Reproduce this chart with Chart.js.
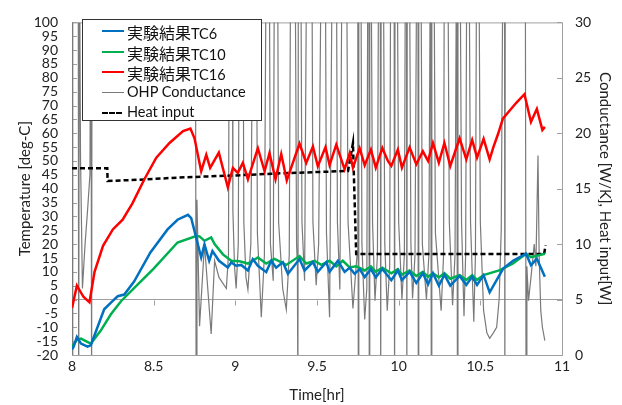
<!DOCTYPE html>
<html>
<head>
<meta charset="utf-8">
<script src="https://cdn.jsdelivr.net/npm/chart.js@4.4.0/dist/chart.umd.min.js"></script>
<style>
body { margin: 0; background: #fff; }
#wrap { position: relative; width: 622px; height: 405px; }
#legend { position: absolute; left: 82px; top: 19px; width: 178px; height: 100px; border: 1px solid #333; background: #fff; font: 14.5px Lato, 'Noto Sans CJK JP', sans-serif; color: #111; }
.row { position: absolute; left: 0; height: 20px; line-height: 20px; white-space: nowrap; }
.sw { position: absolute; left: 19px; top: 10px; width: 22px; }
.tx { position: absolute; left: 44px; top: 0; }
.cj { font: 16px 'Noto Sans CJK JP', sans-serif; }
</style>
</head>
<body>
<div id="wrap">
	<canvas id="chart" width="622" height="405"></canvas>
	<div id="legend"></div>
</div>
<script>
// 実験結果 (temperature, left axis)
const tc16Time = [8.00, 8.03, 8.07, 8.107, 8.138, 8.19, 8.25, 8.31, 8.37, 8.444, 8.516, 8.597, 8.68, 8.725, 8.75, 8.791, 8.822, 8.846, 8.899, 8.954, 8.985, 9.015, 9.046, 9.077, 9.138, 9.179, 9.209, 9.246, 9.281, 9.315, 9.393, 9.434, 9.475, 9.505, 9.552, 9.577, 9.618, 9.669, 9.70, 9.72, 9.761, 9.792, 9.83, 9.86, 9.90, 9.934, 9.955, 9.995, 10.02, 10.067, 10.108, 10.148, 10.18, 10.21, 10.246, 10.28, 10.316, 10.373, 10.414, 10.45, 10.48, 10.52, 10.557, 10.58, 10.61, 10.638, 10.68, 10.72, 10.77, 10.81, 10.846, 10.88, 10.895];
const tc16Temp = [-3, 5, 1, -1, 10, 19.4, 25.3, 28.8, 34.7, 43.5, 51.2, 56.5, 60.8, 61.7, 58.2, 46.3, 52.2, 47.5, 53, 40.5, 47.5, 45.7, 49.3, 43.4, 54.6, 46.3, 52.8, 43.4, 52.5, 43, 56.3, 49.3, 55.2, 48.1, 55, 48.5, 55.9, 47, 52.8, 47.6, 54.6, 48.5, 54.1, 47.6, 54.7, 50, 48.2, 54.1, 47.6, 54.9, 48.8, 53.5, 50, 56.5, 49.4, 56.5, 48.2, 58.2, 50.6, 57.6, 51.2, 58, 50.6, 55, 60, 65.3, 68.2, 71, 74.1, 64.1, 68.8, 61.2, 62.3];

const tc6Time = [8.00, 8.01, 8.03, 8.055, 8.095, 8.115, 8.156, 8.197, 8.24, 8.28, 8.32, 8.38, 8.48, 8.585, 8.646, 8.71, 8.73, 8.791, 8.811, 8.84, 8.86, 8.90, 8.954, 8.975, 9.005, 9.036, 9.077, 9.107, 9.138, 9.189, 9.22, 9.25, 9.291, 9.322, 9.393, 9.424, 9.475, 9.505, 9.557, 9.577, 9.628, 9.669, 9.70, 9.73, 9.761, 9.792, 9.83, 9.86, 9.90, 9.955, 9.995, 10.02, 10.067, 10.108, 10.148, 10.18, 10.21, 10.246, 10.28, 10.316, 10.373, 10.414, 10.45, 10.48, 10.52, 10.557, 10.64, 10.70, 10.78, 10.81, 10.846, 10.895];
const tc6Temp = [-18, -17, -13.5, -15.9, -17, -16.5, -10, -3.5, -1, 1.2, 1.8, 6.5, 17, 25.3, 28.8, 30.6, 29.4, 15.2, 19.9, 14, 17.5, 14, 11.6, 13.4, 12.2, 12.5, 10.5, 14.6, 12.2, 9.9, 14, 11.5, 13.5, 9.3, 14.6, 10.5, 13.5, 10, 13.5, 10, 14, 10, 11.5, 9.3, 11, 8.1, 11, 8, 11, 7, 10.5, 7, 10, 6, 9.5, 5.5, 9.5, 5, 9, 5, 8.5, 5.3, 8.2, 5.3, 8.8, 2.6, 11.2, 14, 16.5, 12.4, 14.7, 8.2];

const tc10Time = [8.00, 8.03, 8.055, 8.115, 8.176, 8.238, 8.30, 8.38, 8.50, 8.646, 8.76, 8.781, 8.811, 8.852, 8.873, 8.924, 8.975, 9.026, 9.077, 9.138, 9.189, 9.24, 9.312, 9.393, 9.434, 9.485, 9.526, 9.577, 9.618, 9.658, 9.70, 9.74, 9.792, 9.83, 9.86, 9.90, 9.955, 9.995, 10.02, 10.067, 10.108, 10.148, 10.18, 10.21, 10.246, 10.28, 10.316, 10.373, 10.414, 10.45, 10.48, 10.52, 10.62, 10.70, 10.78, 10.81, 10.895];
const tc10Temp = [-17, -14.5, -14.1, -15.9, -11.2, -5.3, -0.6, 4.1, 11.2, 20.6, 22.9, 22.8, 21.2, 22.4, 20, 16.3, 14, 13.8, 13, 15.2, 13, 14.7, 12.5, 15.7, 13, 14, 12.5, 14, 12, 14, 11.6, 12, 10.5, 12, 10, 11.5, 9.5, 11, 9, 10.5, 8.5, 10, 8.2, 9.5, 8, 9.5, 7.5, 8.8, 7.1, 8.8, 7.1, 8.8, 10.6, 13, 16.5, 15.3, 16.5];

// right axis
const condTime = [
	8.000, 8.003, 8.006, 8.038, 8.041, 8.045, 8.052, 8.064, 8.080, 8.095, 8.110, 8.116, 8.120, 8.123,
	8.755, 8.760, 8.765, 8.781, 8.811, 8.852, 8.873, 8.900, 8.922, 8.945, 8.958, 8.964, 8.980, 8.985,
	8.995, 9.005, 9.018, 9.026, 9.046, 9.052, 9.065, 9.077, 9.095, 9.110, 9.128, 9.135, 9.159, 9.178,
	9.190, 9.207, 9.215, 9.232, 9.240, 9.258, 9.265, 9.290, 9.312, 9.330, 9.340, 9.365, 9.375, 9.380,
	9.383, 9.386, 9.400, 9.408, 9.424, 9.438, 9.468, 9.475, 9.495, 9.510, 9.528, 9.550, 9.558, 9.577,
	9.595, 9.618, 9.625, 9.640, 9.655, 9.680, 9.690, 9.720, 9.745, 9.750, 9.753, 9.756, 9.768, 9.775,
	9.792, 9.805, 9.812, 9.818, 9.820, 9.823, 9.830, 9.840, 9.855, 9.870, 9.878, 9.887, 9.890, 9.893,
	9.905, 9.915, 9.930, 9.945, 9.952, 9.972, 9.975, 9.978, 9.990, 10.000, 10.020, 10.035, 10.042, 10.048,
	10.050, 10.053, 10.065, 10.075, 10.085, 10.100, 10.112, 10.118, 10.120, 10.123, 10.135, 10.145, 10.170, 10.185,
	10.195, 10.200, 10.203, 10.215, 10.225, 10.260, 10.275, 10.280, 10.300, 10.310, 10.330, 10.345, 10.355, 10.360,
	10.363, 10.375, 10.385, 10.400, 10.410, 10.418, 10.430, 10.440, 10.460, 10.470, 10.478, 10.490, 10.500, 10.520,
	10.540, 10.557, 10.580, 10.600, 10.615, 10.628, 10.640, 10.648, 10.650, 10.653, 10.775, 10.780, 10.785, 10.795,
	10.810, 10.830, 10.840, 10.853, 10.860, 10.870, 10.880, 10.895
];
const condValue = [
	40, -5, 40, 40, -5, 40, 18, 6, 10, 13, 16.3, 40, -5, 40,
	40, -5, 14, 2.6, 10, 1.9, 8.5, 7, 6.5, 6, 9, 40, 40, 13,
	8, 6, 10, 40, 40, 12, 7, 5.9, 10, 40, 40, 11, 3.4, 9,
	40, 40, 10, 6.7, 40, 40, 12, 6, 4.1, 9, 40, 40, 10, 8,
	-5, 40, 40, 12, 6.7, 40, 40, 12, 6.3, 10, 40, 40, 11, 3.4,
	40, 40, 12, 5.9, 40, 40, 12, 4.2, 9, 40, -5, 40, 40, 10,
	3.2, 6, 40, 40, -5, 40, 40, 12, 4.9, 9, 40, 40, -5, 40,
	40, 10, 4, 8, 40, 40, -5, 40, 40, 12, 5, 9, 40, 40,
	-5, 40, 40, 10, 5.1, 9, 40, 40, -5, 40, 40, 10, 5, 9,
	40, -5, 40, 40, 11, 4, 9, 40, 40, 12, 4.5, 9, 40, -5,
	40, 40, 12, 3.5, 9, 40, 40, 12, 3, 9, 40, 40, 12, 4,
	2, 1.5, 2, 2.5, 5, 11.3, 40, 40, -5, 40, 40, -5, 8, 4.9,
	7, 10, 8, 18, 9, 4, 2.5, 1.3
];

const heatTime = [8.00, 8.216, 8.218, 8.40, 8.646, 9.00, 9.30, 9.69, 9.72, 9.74, 10.89, 10.90];
const heatValue = [16.85, 16.85, 15.7, 15.8, 16.0, 16.2, 16.4, 16.6, 19.1, 9.1, 9.1, 9.9];

const tempTicks = { min: -20, max: 100, step: 5 };
const rightTicks = { min: 0, max: 30, step: 5 };
const timeTicks = { min: 8, max: 11, step: 0.5 };

function pts(xs, ys) {
	return xs.map((x, i) => ({ x: x, y: ys[i] }));
}

const datasets = [
	{ label: '実験結果TC6', data: pts(tc6Time, tc6Temp), borderColor: '#0070C0', borderWidth: 2.5, yAxisID: 'y', order: 1 },
	{ label: '実験結果TC10', data: pts(tc10Time, tc10Temp), borderColor: '#00B050', borderWidth: 2.5, yAxisID: 'y', order: 2 },
	{ label: '実験結果TC16', data: pts(tc16Time, tc16Temp), borderColor: '#FF0000', borderWidth: 2.5, yAxisID: 'y', order: 0 },
	{ label: 'OHP Conductance', data: pts(condTime, condValue), borderColor: '#7a7a7a', borderWidth: 1.2, yAxisID: 'y2', order: 4 },
	{ label: 'Heat input', data: pts(heatTime, heatValue), borderColor: '#000000', borderWidth: 2.5, borderDash: [5, 3], yAxisID: 'y2', order: 3 },
];
datasets.forEach((d) => {
	d.pointRadius = 0;
	d.tension = 0;
	d.fill = false;
});

// plot frame + inward tick marks like the original
const frame = {
	id: 'frame',
	beforeDatasetsDraw(chart) {
		const { ctx, chartArea: a, scales } = chart;
		ctx.save();
		ctx.strokeStyle = '#a0a0a0';
		ctx.lineWidth = 1;
		ctx.strokeRect(a.left + 0.5, a.top + 0.5, a.right - a.left, a.bottom - a.top);
		ctx.beginPath();
		scales.y.ticks.forEach((t) => {
			const py = Math.round(scales.y.getPixelForValue(t.value)) + 0.5;
			ctx.moveTo(a.left, py);
			ctx.lineTo(a.left + 5, py);
		});
		scales.y2.ticks.forEach((t) => {
			const py = Math.round(scales.y2.getPixelForValue(t.value)) + 0.5;
			ctx.moveTo(a.right - 5, py);
			ctx.lineTo(a.right, py);
		});
		const y0 = Math.round(scales.y.getPixelForValue(0)) + 0.5;
		scales.x.ticks.forEach((t) => {
			const px = Math.round(scales.x.getPixelForValue(t.value)) + 0.5;
			ctx.moveTo(px, y0);
			ctx.lineTo(px, y0 + 5);
		});
		ctx.stroke();
		ctx.restore();
	},
};

const tickFont = { family: 'Lato, sans-serif', size: 14 };
const titleFont = { family: 'Lato, sans-serif', size: 15 };

new Chart(document.getElementById('chart'), {
	type: 'line',
	data: { datasets: datasets },
	plugins: [frame],
	options: {
		responsive: false,
		animation: false,
		layout: { padding: { top: 15, left: 0, right: 0, bottom: 0 } },
		plugins: { legend: { display: false }, tooltip: { enabled: false } },
		scales: {
			x: {
				type: 'linear',
				min: timeTicks.min,
				max: timeTicks.max,
				ticks: { stepSize: timeTicks.step, color: '#222', font: tickFont, padding: 3, maxRotation: 0, callback: (v) => String(v) },
				grid: { display: false, drawTicks: false },
				border: { display: false },
				title: { display: true, text: 'Time[hr]', color: '#222', font: titleFont, padding: { top: 0, bottom: 1 } },
				afterFit: (s) => { s.height = 50; },
			},
			y: {
				position: 'left',
				min: tempTicks.min,
				max: tempTicks.max,
				ticks: { stepSize: tempTicks.step, autoSkip: false, color: '#222', font: tickFont, padding: 14 },
				grid: {
					drawTicks: false,
					color: (c) => (c.tick && c.tick.value === 0 ? '#a0a0a0' : 'rgba(0,0,0,0)'),
				},
				border: { display: false },
				title: { display: true, text: 'Temperature [deg-C]', color: '#222', font: titleFont, padding: { top: 16, bottom: 0 } },
				afterFit: (s) => { s.width = 72; },
			},
			y2: {
				position: 'right',
				min: rightTicks.min,
				max: rightTicks.max,
				ticks: { stepSize: rightTicks.step, autoSkip: false, color: '#222', font: tickFont, padding: 13 },
				grid: { display: false, drawTicks: false },
				border: { display: false },
				title: { display: true, text: 'Conductance [W/K], Heat input[W]', color: '#222', font: titleFont, padding: { top: 8, bottom: 0 } },
				afterFit: (s) => { s.width = 60; },
			},
		},
	},
});

// legend box inside the plot, built from the datasets
const legend = document.getElementById('legend');
datasets.forEach((d, i) => {
	const row = document.createElement('div');
	row.className = 'row';
	row.style.top = i * 20.5 + 'px';
	const style = d.borderDash ? 'dashed' : 'solid';
	const w = d.borderWidth >= 2 ? 2.5 : 1;
	const text = d.label.replace(/([^\x00-\x7F]+)/, '<span class="cj">$1</span>');
	row.innerHTML = `<div class="sw" style="border-top:${w}px ${style} ${d.borderColor};${d.borderDash ? 'width:20px;' : ''}"></div><span class="tx">${text}</span>`;
	legend.appendChild(row);
});
</script>
</body>
</html>
